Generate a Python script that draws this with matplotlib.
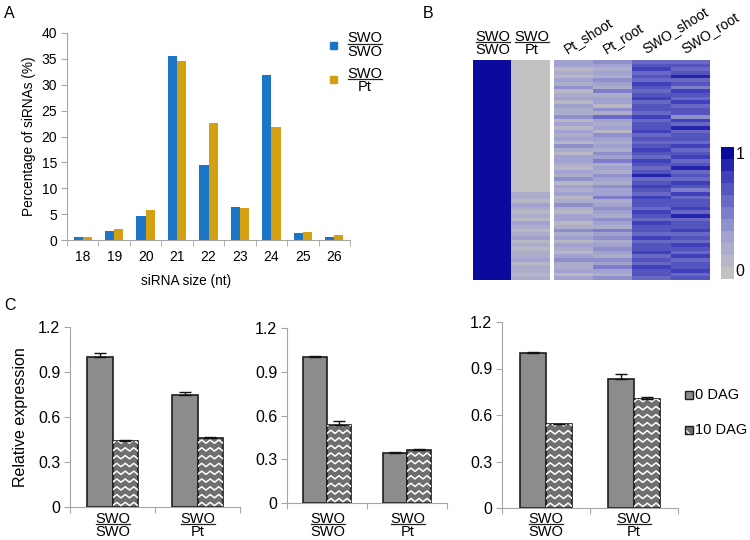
import numpy as np
import matplotlib
matplotlib.use('Agg')
import matplotlib.pyplot as plt
from matplotlib.colors import LinearSegmentedColormap, BoundaryNorm
from matplotlib.patches import Rectangle
from matplotlib.lines import Line2D

plt.rcParams['font.family'] = ['Liberation Sans', 'DejaVu Sans']

# ---------------- data ----------------
# Panel A
sizes = ['18', '19', '20', '21', '22', '23', '24', '25', '26']
pct_swo_swo = [0.6, 1.7, 4.6, 35.5, 14.5, 6.3, 31.9, 1.4, 0.6]
pct_swo_pt = [0.6, 2.2, 5.8, 34.6, 22.7, 6.1, 21.9, 1.5, 0.9]

# Panel B (rows top -> bottom)
hm_swo_swo = [1.0] * 36 + [0.97, 0.94, 1.0, 0.95, 0.98, 0.93, 1.0, 0.96, 0.94, 0.99, 0.95, 0.97,
                           1.0, 0.94, 0.96, 0.98, 0.93, 0.97, 1.0, 0.95, 0.96, 0.94, 0.98, 0.96]
hm_swo_pt = [0.0] * 36 + [0.20, 0.25, 0.15, 0.30, 0.20, 0.10, 0.25, 0.15, 0.30, 0.20, 0.15, 0.25,
                          0.35, 0.15, 0.20, 0.10, 0.25, 0.20, 0.30, 0.15, 0.25, 0.20, 0.10, 0.25]
hm_pt_shoot = [0.35, 0.30, 0.15, 0.25, 0.10, 0.30, 0.20, 0.40, 0.15, 0.25,
               0.35, 0.10, 0.30, 0.20, 0.25, 0.45, 0.15, 0.30, 0.10, 0.35,
               0.20, 0.30, 0.15, 0.40, 0.25, 0.10, 0.30, 0.35, 0.20, 0.15,
               0.30, 0.25, 0.40, 0.10, 0.35, 0.20, 0.30, 0.15, 0.25, 0.45,
               0.20, 0.10, 0.35, 0.30, 0.15, 0.25, 0.40, 0.20, 0.30, 0.10,
               0.35, 0.25, 0.15, 0.30, 0.45, 0.20, 0.25, 0.35, 0.15, 0.30]
hm_pt_root = [0.40, 0.35, 0.25, 0.30, 0.20, 0.45, 0.30, 0.25, 0.50, 0.20,
              0.35, 0.30, 0.15, 0.40, 0.25, 0.55, 0.30, 0.20, 0.35, 0.10,
              0.45, 0.30, 0.25, 0.35, 0.20, 0.40, 0.30, 0.50, 0.25, 0.35,
              0.20, 0.45, 0.30, 0.25, 0.40, 0.35, 0.30, 0.50, 0.25, 0.35,
              0.45, 0.30, 0.20, 0.40, 0.35, 0.25, 0.50, 0.30, 0.40, 0.20,
              0.35, 0.45, 0.30, 0.25, 0.40, 0.30, 0.50, 0.35, 0.25, 0.40]
hm_swo_shoot = [0.60, 0.65, 0.75, 0.55, 0.70, 0.60, 0.80, 0.65, 0.55, 0.70,
                0.75, 0.60, 0.65, 0.70, 0.55, 0.80, 0.60, 0.70, 0.65, 0.75,
                0.55, 0.70, 0.60, 0.65, 0.80, 0.70, 0.60, 0.75, 0.65, 0.55,
                0.70, 0.85, 0.60, 0.65, 0.75, 0.70, 0.60, 0.80, 0.65, 0.70,
                0.55, 0.75, 0.65, 0.60, 0.80, 0.70, 0.65, 0.55, 0.75, 0.60,
                0.70, 0.65, 0.80, 0.60, 0.70, 0.55, 0.75, 0.65, 0.70, 0.60]
hm_swo_root = [0.60, 0.70, 0.55, 0.65, 0.85, 0.60, 0.70, 0.50, 0.75, 0.65,
               0.55, 0.80, 0.60, 0.70, 0.65, 0.45, 0.75, 0.60, 0.85, 0.55,
               0.70, 0.65, 0.60, 0.80, 0.55, 0.70, 0.75, 0.60, 0.65, 0.85,
               0.55, 0.70, 0.60, 0.75, 0.65, 0.50, 0.80, 0.60, 0.70, 0.65,
               0.75, 0.55, 0.85, 0.60, 0.70, 0.65, 0.80, 0.55, 0.70, 0.60,
               0.75, 0.65, 0.55, 0.80, 0.60, 0.70, 0.65, 0.75, 0.60, 0.70]
hm_tissue_labels = ['Pt_shoot', 'Pt_root', 'SWO_shoot', 'SWO_root']

# Panel C (three genes); groups: SWO/SWO, SWO/Pt
c_dag0 = [[1.00, 0.745], [1.00, 0.345], [1.00, 0.835]]
c_dag0_err = [[0.030, 0.025], [0.010, 0.005], [0.005, 0.030]]
c_dag10 = [[0.44, 0.46], [0.535, 0.365], [0.54, 0.705]]
c_dag10_err = [[0.010, 0.010], [0.025, 0.005], [0.005, 0.010]]
c_yticks = [0, 0.3, 0.6, 0.9, 1.2]
c_yticklabels = ['0', '0.3', '0.6', '0.9', '1.2']

# ---------------- figure helpers ----------------
W, H = 750, 540
fig = plt.figure(figsize=(7.5, 5.4), dpi=100)
renderer = fig.canvas.get_renderer()


def fx(x):
    return x / W


def fy(y):
    return 1 - y / H


def axpos(l, t, r, b):
    return [fx(l), fy(b), (r - l) / W, (b - t) / H]


def frac(x, yl, top, bot, size, lw=0.9):
    t1 = fig.text(fx(x), fy(yl - 1.2), top, ha='center', va='baseline', fontsize=size)
    t2 = fig.text(fx(x), fy(yl + 1.2), bot, ha='center', va='top', fontsize=size)
    w = max(t1.get_window_extent(renderer).width, t2.get_window_extent(renderer).width)
    fig.add_artist(Line2D([fx(x - w / 2), fx(x + w / 2)], [fy(yl), fy(yl)],
                          color='#222222', lw=lw, transform=fig.transFigure))


AXC = '#a6a6a6'

# ---------------- Panel A ----------------
BLUE = '#1b76c8'
GOLD = '#d4a012'
axA = fig.add_axes(axpos(67, 33, 350, 240))
xi = np.arange(len(sizes))
bw = 0.29
axA.bar(xi - bw / 2, pct_swo_swo, bw, color=BLUE)
axA.bar(xi + bw / 2, pct_swo_pt, bw, color=GOLD)
axA.set_xlim(-0.5, len(sizes) - 0.5)
axA.set_ylim(0, 40)
axA.set_yticks(range(0, 41, 5))
axA.set_xticks(xi)
axA.set_xticklabels(sizes)
axA.set_xticks(np.arange(-0.5, len(sizes)), minor=True)
axA.tick_params(axis='x', which='major', length=0, pad=7, labelsize=10)
axA.tick_params(axis='x', which='minor', length=4, color=AXC, direction='out')
axA.tick_params(axis='y', length=4, color=AXC, labelsize=10, pad=3)
for s in ['top', 'right']:
    axA.spines[s].set_visible(False)
for s in ['left', 'bottom']:
    axA.spines[s].set_color(AXC)
axA.set_ylabel('Percentage of siRNAs (%)', fontsize=9.8, labelpad=4)
axA.set_xlabel('siRNA size (nt)', fontsize=9.8, labelpad=3)
axA.xaxis.set_label_coords(0.42, -0.165)

# legend A
for yc, col in [(45, BLUE), (79, GOLD)]:
    fig.add_artist(Rectangle((fx(330), fy(yc + 3.5)), 7 / W, 7 / H, color=col,
                             transform=fig.transFigure))
frac(365, 43.5, 'SWO', 'SWO', 10.5)
frac(365, 79, 'SWO', 'Pt', 10.5)

# ---------------- Panel B ----------------
nlev = 11
cmap = LinearSegmentedColormap.from_list(
    'gb', [(0.0, '#c2c2c2'), (0.3, '#a2a2d0'), (0.55, '#7474c8'),
           (0.8, '#4040ba'), (1.0, '#0a0a9c')], N=nlev)
norm = BoundaryNorm(np.linspace(0, 1, nlev + 1), nlev)

axB1 = fig.add_axes(axpos(473, 60, 550, 280))
axB2 = fig.add_axes(axpos(554, 60, 710, 280))
m1 = np.array([hm_swo_swo, hm_swo_pt]).T
m2 = np.array([hm_pt_shoot, hm_pt_root, hm_swo_shoot, hm_swo_root]).T
axB1.imshow(m1, aspect='auto', cmap=cmap, norm=norm, interpolation='nearest')
im = axB2.imshow(m2, aspect='auto', cmap=cmap, norm=norm, interpolation='nearest')
for ax in (axB1, axB2):
    ax.set_xticks([])
    ax.set_yticks([])
    for s in ax.spines.values():
        s.set_visible(False)

frac(493, 42, 'SWO', 'SWO', 10.5)
frac(532, 42, 'SWO', 'Pt', 10.5)
for k, lab in enumerate(hm_tissue_labels):
    axB2.annotate(lab, xy=(k, -0.5), xycoords='data', xytext=(-6, 7), textcoords='offset pixels',
                  rotation=32, rotation_mode='anchor', ha='left', va='baseline',
                  fontsize=10, annotation_clip=False)

cax = fig.add_axes(axpos(721, 147, 734, 279))
cb = fig.colorbar(im, cax=cax)
cb.outline.set_visible(False)
cax.minorticks_off()
cb.set_ticks([0, 1])
cb.set_ticklabels(['0', '1'])
cax.tick_params(which='both', length=0, labelsize=11.5, pad=1)
labs = cax.get_yticklabels()
labs[0].set_va('bottom')
labs[1].set_va('top')

# ---------------- Panel C ----------------
GRAY = '#8c8c8c'
DGRAY = '#6f6f6f'
EDGE = '#1e1e1e'
c_boxes = [(70, 327, 240, 507), (287, 328, 447, 503), (502, 322, 678, 508)]
c_centers_px = [(113, 198), (328, 408), (546, 634)]
cw = 0.3


def zigzag(ax, patch):
    x0, y0 = patch.get_x(), patch.get_y()
    w, h = patch.get_width(), patch.get_height()
    nseg = 6
    xs = x0 + w * np.arange(nseg + 1) / nseg
    amp = 0.011
    step = 0.052
    for base in np.arange(y0 + 0.02, y0 + h + step, step):
        ys = base + np.where(np.arange(nseg + 1) % 2 == 0, -amp, amp)
        ln = Line2D(xs, ys, color='white', lw=1.1)
        ax.add_line(ln)
        ln.set_clip_path(patch)


for g, (l, t, r, b) in enumerate(c_boxes):
    ax = fig.add_axes(axpos(l, t, r, b))
    gx = np.arange(2)
    ax.bar(gx - cw / 2, c_dag0[g], cw, color=GRAY, edgecolor=EDGE, lw=1.2, zorder=2,
           yerr=[[0, 0], c_dag0_err[g]], capsize=4,
           error_kw=dict(ecolor='#111111', elinewidth=1, capthick=1))
    bars10 = ax.bar(gx + cw / 2, c_dag10[g], cw, color=DGRAY, edgecolor=EDGE, lw=1.2, zorder=2,
                    yerr=[[0, 0], c_dag10_err[g]], capsize=4,
                    error_kw=dict(ecolor='#111111', elinewidth=1, capthick=1))
    for p in bars10.patches:
        zigzag(ax, p)
    ax.set_xlim(-0.5, 1.5)
    ax.set_ylim(0, 1.2)
    ax.set_yticks(c_yticks)
    ax.set_yticklabels(c_yticklabels)
    ax.set_xticks([-0.5, 0.5, 1.5])
    ax.set_xticklabels([])
    ax.tick_params(axis='x', length=4, color=AXC)
    ax.tick_params(axis='y', length=4, color=AXC, labelsize=11.5, pad=3)
    for s in ['top', 'right']:
        ax.spines[s].set_visible(False)
    for s in ['left', 'bottom']:
        ax.spines[s].set_color(AXC)
    if g == 0:
        ax.set_ylabel('Relative expression', fontsize=11.5, labelpad=7)
    frac(c_centers_px[g][0], 524, 'SWO', 'SWO', 10.5)
    frac(c_centers_px[g][1], 524, 'SWO', 'Pt', 10.5)

# legend C
fig.add_artist(Rectangle((fx(685), fy(399)), 8 / W, 8 / H, facecolor=GRAY, edgecolor=EDGE,
                         lw=1, transform=fig.transFigure))
fig.add_artist(Rectangle((fx(685), fy(434)), 8 / W, 8 / H, facecolor=DGRAY, edgecolor='white',
                         hatch='\\\\\\', lw=0, transform=fig.transFigure))
fig.add_artist(Rectangle((fx(685), fy(434)), 8 / W, 8 / H, facecolor='none', edgecolor=EDGE,
                         lw=1, transform=fig.transFigure))
fig.text(fx(695), fy(395), '0 DAG', fontsize=10.5, va='center', ha='left')
fig.text(fx(695), fy(430), '10 DAG', fontsize=10.5, va='center', ha='left')

# panel letters
fig.text(fx(4), fy(14), 'A', fontsize=11.5, va='center', ha='left')
fig.text(fx(423), fy(13), 'B', fontsize=11.5, va='center', ha='left')
fig.text(fx(4), fy(305), 'C', fontsize=11.5, va='center', ha='left')

fig.savefig('out.png', dpi=100)
